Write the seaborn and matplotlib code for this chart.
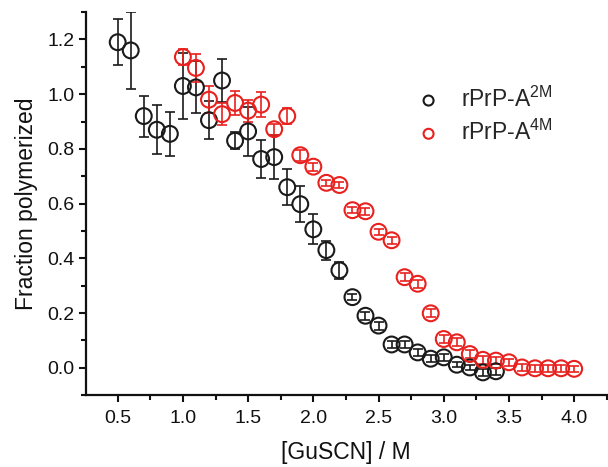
import numpy as np
import pandas as pd
import matplotlib
matplotlib.use('Agg')
import matplotlib.pyplot as plt
from matplotlib.ticker import MultipleLocator
import seaborn as sns

# rPrP-A 2M series
gu_2m = [0.5, 0.6, 0.7, 0.8, 0.9, 1.0, 1.1, 1.2, 1.3, 1.4, 1.5, 1.6, 1.7, 1.8, 1.9,
         2.0, 2.1, 2.2, 2.3, 2.4, 2.5, 2.6, 2.7, 2.8, 2.9, 3.0, 3.1, 3.2, 3.3, 3.4]
frac_2m = [1.19, 1.16, 0.92, 0.87, 0.855, 1.03, 1.025, 0.905, 1.05, 0.83, 0.864, 0.763, 0.77, 0.66, 0.598,
           0.506, 0.43, 0.356, 0.258, 0.19, 0.154, 0.085, 0.085, 0.056, 0.033, 0.038, 0.011, 0.001, -0.017, -0.013]
err_2m = [0.085, 0.14, 0.075, 0.09, 0.08, 0.12, 0.095, 0.07, 0.08, 0.03, 0.09, 0.07, 0.08, 0.065, 0.065,
          0.055, 0.035, 0.03, 0.012, 0.015, 0.015, 0.012, 0.012, 0.012, 0.012, 0.012, 0.01, 0.01, 0.012, 0.012]

# rPrP-A 4M series
gu_4m = [1.0, 1.1, 1.2, 1.3, 1.4, 1.5, 1.6, 1.7, 1.8, 1.9, 2.0, 2.1, 2.2, 2.3, 2.4, 2.5,
         2.6, 2.7, 2.8, 2.9, 3.0, 3.1, 3.2, 3.3, 3.4, 3.5, 3.6, 3.7, 3.8, 3.9, 4.0]
frac_4m = [1.136, 1.096, 0.98, 0.927, 0.968, 0.94, 0.962, 0.872, 0.92, 0.777, 0.735, 0.676, 0.668, 0.576, 0.572, 0.497,
           0.466, 0.331, 0.307, 0.199, 0.105, 0.093, 0.05, 0.029, 0.026, 0.02, 0.001, -0.002, -0.002, -0.002, -0.004]
err_4m = [0.03, 0.05, 0.05, 0.04, 0.045, 0.04, 0.045, 0.02, 0.03, 0.02, 0.015, 0.012, 0.012, 0.012, 0.012, 0.012,
          0.012, 0.015, 0.015, 0.015, 0.015, 0.015, 0.015, 0.015, 0.012, 0.012, 0.012, 0.012, 0.012, 0.012, 0.012]

series = [
    (r'rPrP-A$^{\mathregular{2M}}$', gu_2m, frac_2m, err_2m, '#1a1a1a'),
    (r'rPrP-A$^{\mathregular{4M}}$', gu_4m, frac_4m, err_4m, '#e8211e'),
]

sns.set_style('ticks')
plt.rcParams['font.family'] = ['Liberation Sans', 'DejaVu Sans']
plt.rcParams['mathtext.fontset'] = 'custom'
plt.rcParams['mathtext.rm'] = 'Liberation Sans'

fig = plt.figure(figsize=(6.08, 4.67), dpi=100)
ax = fig.add_axes([0.141, 0.154, 0.857, 0.82])

for label, x, y, e, col in series:
    df = pd.DataFrame({'x': x, 'y': y})
    ax.errorbar(x, y, yerr=e, fmt='none', ecolor=col, elinewidth=1.2,
                capsize=3.5, capthick=1.2, zorder=2)
    sns.scatterplot(data=df, x='x', y='y', ax=ax, marker='o', s=130,
                    facecolor='none', edgecolor=col, linewidth=1.5,
                    label=label, zorder=3)

ax.set_xlim(0.255, 4.25)
ax.set_ylim(-0.1, 1.3)
ax.xaxis.set_major_locator(MultipleLocator(0.5))
ax.xaxis.set_minor_locator(MultipleLocator(0.25))
ax.yaxis.set_major_locator(MultipleLocator(0.2))
ax.yaxis.set_minor_locator(MultipleLocator(0.1))
ax.xaxis.set_major_formatter(matplotlib.ticker.FormatStrFormatter('%.1f'))
ax.yaxis.set_major_formatter(matplotlib.ticker.FormatStrFormatter('%.1f'))

sns.despine(ax=ax)
for sp in ['left', 'bottom']:
    ax.spines[sp].set_linewidth(1.6)
    ax.spines[sp].set_color('#111111')
ax.tick_params(which='major', direction='out', length=5, width=1.5, labelsize=14,
               colors='#111111', pad=3)
ax.tick_params(axis='x', which='major', pad=6)
ax.tick_params(which='minor', direction='out', length=3.5, width=1.5, colors='#111111')

ax.set_xlabel('[GuSCN] / M', fontsize=16.5, labelpad=10, color='#111111')
ax.set_ylabel('Fraction polymerized', fontsize=16.5, labelpad=7, color='#111111')

leg = ax.legend(loc='upper left', bbox_to_anchor=(0.592, 0.86), frameon=False,
                fontsize=16.5, markerscale=0.63, handletextpad=0.8,
                labelspacing=0.35, handlelength=1.2)

fig.savefig('out.png', dpi=100)
